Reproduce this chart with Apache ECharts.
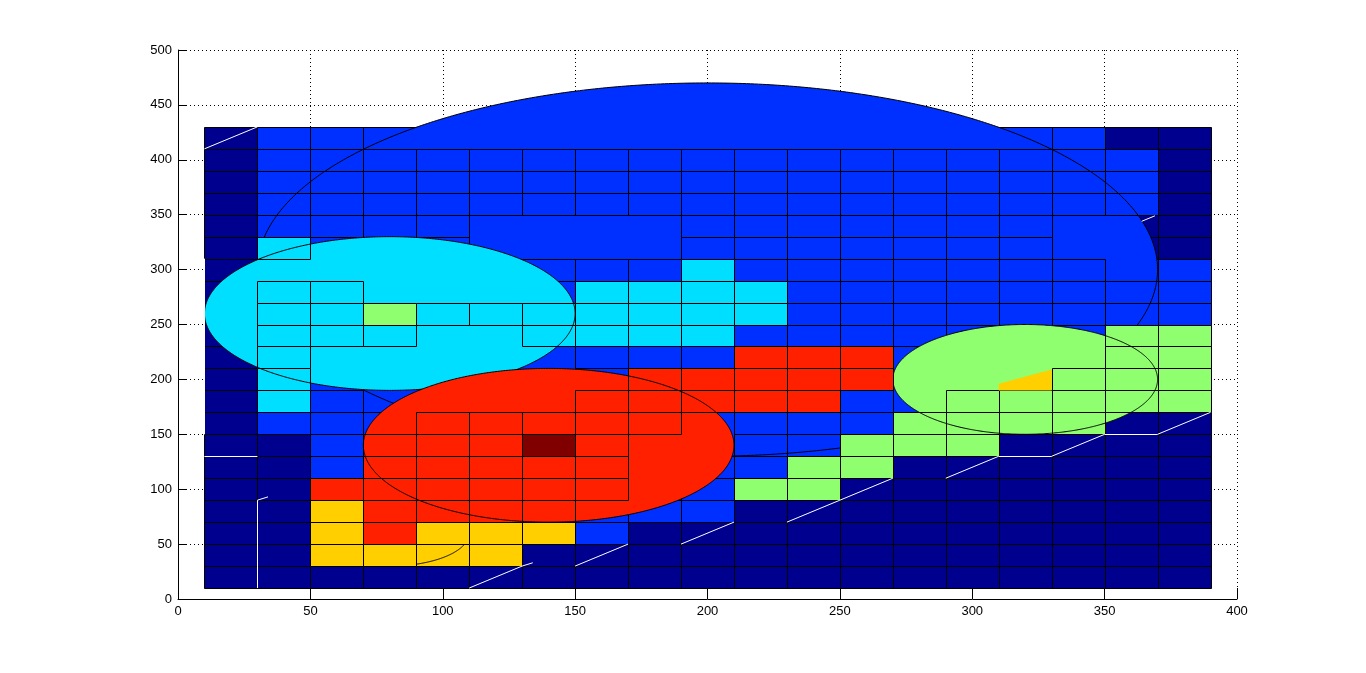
<!DOCTYPE html>
<html>
<head>
<meta charset="utf-8">
<script src="https://cdn.jsdelivr.net/npm/echarts@6/dist/echarts.min.js"></script>
<style>
html,body{margin:0;padding:0;background:#fff;}
#chart{width:1366px;height:673px;}
</style>
</head>
<body>
<div id="chart"></div>
<script>
// ---------- data ----------
const classLetters = 'NBCGYRD';
const classColors = ['#00008F', '#0030FF', '#00DFFF', '#8FFF70', '#FFCF00', '#FF2000', '#800000'];
const cellSize = 20;
const colStarts = [10, 30, 50, 70, 90, 110, 130, 150, 170, 190, 210, 230, 250, 270, 290, 310, 330, 350, 370];
const rowStarts = [10, 30, 50, 70, 90, 110, 130, 150, 170, 190, 210, 230, 250, 270, 290, 310, 330, 350, 370, 390, 410];
// one string per row, top row (y 410-430) first; upper case = cell drawn above its class ellipse, lower case = cell below all ellipses
const cellRows = [
  'NBBbnnnnnnnnnnnbBNN',
  'NBBBBBBBBBBBBBBBBBN',
  'NBBBBBBBBBBBBBBBBBN',
  'NBBBBBBBBBBBBBBBBBN',
  'NBBBBnnnnBBBBBBBnNN',
  'NCbbBnnnnBBBBBBBnnN',
  'NcbbbbBBBCBBBBBBBbB',
  'NCCbbbcCCCCBBBBBBBB',
  'NCCGCCCCCCCBBBBBBBB',
  'NCCCbbCCCCBBBBbbbGG',
  'NCbbbbbBBBRRRbbbbGG',
  'NCbbbbrrRRRRRbbgGGG',
  'NCBbbrrRRRRRBbGGGGG',
  'NBBbRRRRRbBBBGGGGNN',
  'NNBRRRDRbbBBGGGNNNN',
  'NNBRRRRRbBBGGNNNNNN',
  'NNRRRRRRbBGGNNNNNNN',
  'NNYRRRRbBBNNNNNNNNN',
  'NNYRYYYBNNNNNNNNNNN',
  'NNYYYYNNNNNNNNNNNNN',
  'NNNNNNNNNNNNNNNNNNN'
];
// ellipses (circles in data units), drawn in this order
const ellipseClass = [1, 2, 3, 4, 5];
const ellipseCx = [200, 80, 320, 80, 140];
const ellipseCy = [300, 260, 200, 60, 140];
const ellipseR = [170, 70, 50, 30, 70];
// cells drawn on top of everything: [col, row]
const topCells = [[2, 1], [2, 2], [2, 3], [3, 1], [4, 2]];
// partially hidden yellow cell inside the green ellipse
const wedgeX = [310, 330, 330, 310];
const wedgeY = [190, 190, 209, 196];
// white seam segments [x0, y0, x1, y1]
const whiteSegs = [
  [10, 410, 30, 430], [10, 130, 30, 130], [10, 150, 10, 310], [30, 10, 30, 90], [30, 90, 34, 93],
  [110, 10, 130, 30], [130, 30, 134, 33], [150, 30, 170, 50], [190, 50, 210, 70], [230, 70, 250, 90],
  [250, 90, 270, 110], [290, 110, 310, 130], [310, 130, 330, 130], [330, 130, 350, 150],
  [350, 150, 370, 150], [370, 150, 390, 170], [364, 344, 369, 349]
];
const xTickLabels = ['0', '50', '100', '150', '200', '250', '300', '350', '400'];
const yTickLabels = ['0', '50', '100', '150', '200', '250', '300', '350', '400', '450', '500'];

// ---------- build cell layers ----------
const nRows = rowStarts.length;
const layers = {0: [], 1: [], 2: [], 3: [], 4: [], 5: [], top: []};
const isTop = (c, r) => topCells.some(t => t[0] === c && t[1] === r);
cellRows.forEach((rowStr, i) => {
  const r = nRows - 1 - i;
  for (let c = 0; c < rowStr.length; c++) {
    const ch = rowStr[c];
    const cls = classLetters.indexOf(ch.toUpperCase());
    const upper = ch === ch.toUpperCase();
    const x0 = colStarts[c], y0 = rowStarts[r];
    const item = [x0, y0, x0 + cellSize, y0 + cellSize, cls];
    let layer = upper ? Math.min(cls, 5) : 0;
    if (isTop(c, r)) layer = 'top';
    layers[layer].push(item);
  }
});

function px(v) { return Math.round(v) + 0.5; }
function cellRender(params, api) {
  const a = api.coord([api.value(0), api.value(3)]);
  const b = api.coord([api.value(2), api.value(1)]);
  const x = px(a[0]), y = px(a[1]);
  return {
    type: 'rect',
    shape: {x: x, y: y, width: px(b[0]) - x, height: px(b[1]) - y},
    style: {fill: classColors[api.value(4)], stroke: '#000', lineWidth: 1}
  };
}
function ellipsePts(api, cx, cy, r) {
  const pts = [];
  const n = 720;
  for (let i = 0; i < n; i++) {
    const t = i / n * Math.PI * 2;
    pts.push(api.coord([cx + r * Math.cos(t), cy + r * Math.sin(t)]));
  }
  return pts;
}

let zc = 2;
const series = [];
function cellSeries(data) {
  series.push({type: 'custom', coordinateSystem: 'cartesian2d', silent: true, animation: false,
    z: zc++, data: data, renderItem: cellRender});
}
cellSeries(layers[0]);
ellipseClass.forEach((cls, k) => {
  const d = [[ellipseCx[k], ellipseCy[k], ellipseR[k], cls]];
  series.push({type: 'custom', coordinateSystem: 'cartesian2d', silent: true, animation: false, z: zc++,
    data: d,
    renderItem: (params, api) => ({type: 'polygon',
      shape: {points: ellipsePts(api, api.value(0), api.value(1), api.value(2))},
      style: {fill: classColors[api.value(3)], stroke: null}})
  });
  cellSeries(layers[cls]);
  if (cls === 3) {
    series.push({type: 'custom', coordinateSystem: 'cartesian2d', silent: true, animation: false, z: zc++,
      data: [wedgeX.map((x, i) => [x, wedgeY[i]])].map(p => [0, 0]).slice(0, 1),
      renderItem: (params, api) => ({type: 'polygon',
        shape: {points: wedgeX.map((x, i) => api.coord([x, wedgeY[i]]))},
        style: {fill: classColors[4], stroke: null}})
    });
  }
  series.push({type: 'custom', coordinateSystem: 'cartesian2d', silent: true, animation: false, z: zc++,
    data: d,
    renderItem: (params, api) => ({type: 'polygon',
      shape: {points: ellipsePts(api, api.value(0), api.value(1), api.value(2))},
      style: {fill: 'none', stroke: '#000', lineWidth: 1}})
  });
});
cellSeries(layers.top);
series.push({type: 'custom', coordinateSystem: 'cartesian2d', silent: true, animation: false, z: zc++,
  data: whiteSegs,
  renderItem: (params, api) => {
    const a = api.coord([api.value(0), api.value(1)]);
    const b = api.coord([api.value(2), api.value(3)]);
    const hor = api.value(1) === api.value(3), ver = api.value(0) === api.value(2);
    return {type: 'line',
      shape: {x1: ver ? px(a[0]) : a[0], y1: hor ? px(a[1]) : a[1], x2: ver ? px(b[0]) : b[0], y2: hor ? px(b[1]) : b[1]},
      style: {stroke: '#fff', lineWidth: 1}};
  }
});

const fontFamily = 'Liberation Sans, Arial, Helvetica, sans-serif';
const chart = echarts.init(document.getElementById('chart'), null, {renderer: 'canvas'});
chart.setOption({
  backgroundColor: '#fff',
  animation: false,
  grid: {left: 178, top: 50, right: 129, bottom: 74, containLabel: false},
  xAxis: {
    type: 'value', min: 0, max: 400, interval: 50,
    axisLine: {show: true, onZero: false, lineStyle: {color: '#000', width: 1}},
    axisTick: {show: true, inside: true, length: 11, lineStyle: {color: '#000'}},
    axisLabel: {color: '#000', fontSize: 13, fontFamily: fontFamily, margin: 6,
      formatter: v => xTickLabels[Math.round(v / 50)]},
    splitLine: {show: true, lineStyle: {color: '#000', width: 1, type: [1, 3]}}
  },
  yAxis: {
    type: 'value', min: 0, max: 500, interval: 50,
    axisLine: {show: true, onZero: false, lineStyle: {color: '#000', width: 1}},
    axisTick: {show: true, inside: true, length: 9, lineStyle: {color: '#000'}},
    axisLabel: {color: '#000', fontSize: 13, fontFamily: fontFamily, margin: 6,
      formatter: v => yTickLabels[Math.round(v / 50)]},
    splitLine: {show: true, lineStyle: {color: '#000', width: 1, type: [1, 3]}}
  },
  series: series
});
</script>
</body>
</html>
